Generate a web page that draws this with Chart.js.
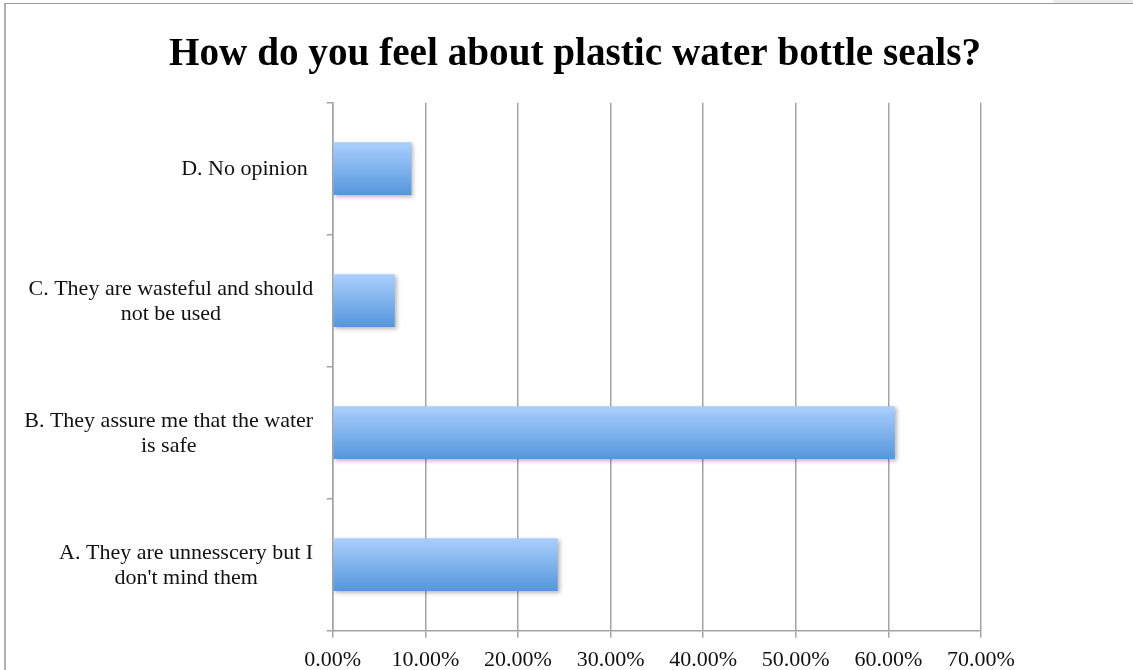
<!DOCTYPE html>
<html>
<head>
<meta charset="utf-8">
<script src="https://cdn.jsdelivr.net/npm/chart.js@4/dist/chart.umd.min.js"></script>
<style>
  html, body { margin: 0; padding: 0; background: #fff; overflow: hidden; }
  #wrap { position: relative; width: 1133px; height: 670px; }
  #c { position: absolute; left: 0; top: 0; }
  #frame { position: absolute; left: 4px; top: 3px; width: 1129px; height: 667px;
           border-left: 2px solid #b0b0b0; border-top: 1px solid #999; pointer-events: none; }
  #corner { position: absolute; left: 1053px; top: 0; width: 80px; height: 3px; background: #ececec; }
</style>
</head>
<body>
<div id="wrap">
  <canvas id="c" width="1133" height="670"></canvas>
  <div id="corner"></div>
  <div id="frame"></div>
</div>
<script>
const chartTitle = "How do you feel about plastic water bottle seals?";
const categories = [
  ["A. They are unnesscery but I", "don't mind them"],
  ["B. They assure me that the water", "is safe"],
  ["C. They are wasteful and should", "not be used"],
  ["D. No opinion "]
];
const values = [24.3, 60.7, 6.7, 8.5];
const tickValues = [0, 10, 20, 30, 40, 50, 60, 70];

const FONT = '"Liberation Serif", "Times New Roman", serif';
const GRID = '#a4a4a4';

function barGradient(ctx) {
  const chart = ctx.chart;
  const y = chart.scales.y;
  if (!chart.chartArea || !y) return '#7fb0ee';
  const c = y.getPixelForValue(ctx.dataIndex);
  const band = (y.bottom - y.top) / categories.length;
  const h = band * 0.4;
  const g = chart.ctx.createLinearGradient(0, c - h / 2, 0, c + h / 2);
  g.addColorStop(0, '#abcffd');
  g.addColorStop(1, '#5496dc');
  return g;
}

const shadowPlugin = {
  id: 'barShadow',
  beforeDatasetsDraw(chart) {
    const ctx = chart.ctx;
    ctx.save();
    ctx.shadowColor = 'rgba(0,0,0,0.28)';
    ctx.shadowBlur = 4;
    ctx.shadowOffsetX = 2;
    ctx.shadowOffsetY = 2;
  },
  afterDatasetsDraw(chart) {
    chart.ctx.restore();
  }
};

const catLabelPlugin = {
  id: 'catLabels',
  afterDraw(chart) {
    const ctx = chart.ctx;
    const y = chart.scales.y;
    const rightEdge = y.right - 19.5;
    const lineH = 25;
    ctx.save();
    ctx.font = '22px ' + FONT;
    ctx.fillStyle = '#111';
    ctx.textAlign = 'center';
    ctx.textBaseline = 'middle';
    categories.forEach((lines, i) => {
      const w = Math.max(...lines.map(l => ctx.measureText(l).width));
      const cx = rightEdge - w / 2;
      const cy = y.getPixelForValue(i) + 1;
      const start = cy - (lines.length - 1) * lineH / 2;
      lines.forEach((l, k) => ctx.fillText(l, cx, start + k * lineH));
    });
    ctx.restore();
  }
};

new Chart(document.getElementById('c'), {
  type: 'bar',
  data: {
    labels: categories,
    datasets: [{
      data: values,
      backgroundColor: barGradient,
      borderWidth: 0,
      barPercentage: 0.4,
      categoryPercentage: 1.0
    }]
  },
  options: {
    indexAxis: 'y',
    responsive: false,
    animation: false,
    layout: { padding: { left: 169, right: 152, top: 0, bottom: 0 } },
    plugins: {
      legend: { display: false },
      tooltip: { enabled: false },
      title: {
        display: true,
        text: chartTitle,
        color: '#000',
        font: { family: FONT, size: 40, weight: 'bold' },
        padding: { top: 31, bottom: 23.7 }
      }
    },
    scales: {
      x: {
        type: 'linear',
        min: 0,
        max: 70,
        afterBuildTicks(scale) { scale.ticks = tickValues.map(v => ({ value: v })); },
        afterFit(scale) { scale.height = 39.3; },
        ticks: {
          color: '#111',
          font: { family: FONT, size: 22 },
          padding: 9,
          maxRotation: 0,
          callback: v => Number(v).toFixed(2) + '%'
        },
        grid: { color: GRID, lineWidth: 1.5, tickLength: 7, drawOnChartArea: true },
        border: { display: true, color: GRID, width: 1.5 }
      },
      y: {
        type: 'category',
        reverse: true,
        afterFit(scale) { scale.width = 163.7; },
        ticks: { display: false },
        grid: { offset: true, drawOnChartArea: false, drawTicks: true, tickLength: 6, color: GRID, lineWidth: 1.5 },
        border: { display: true, color: GRID, width: 1.5 }
      }
    }
  },
  plugins: [shadowPlugin, catLabelPlugin]
});
</script>
</body>
</html>
